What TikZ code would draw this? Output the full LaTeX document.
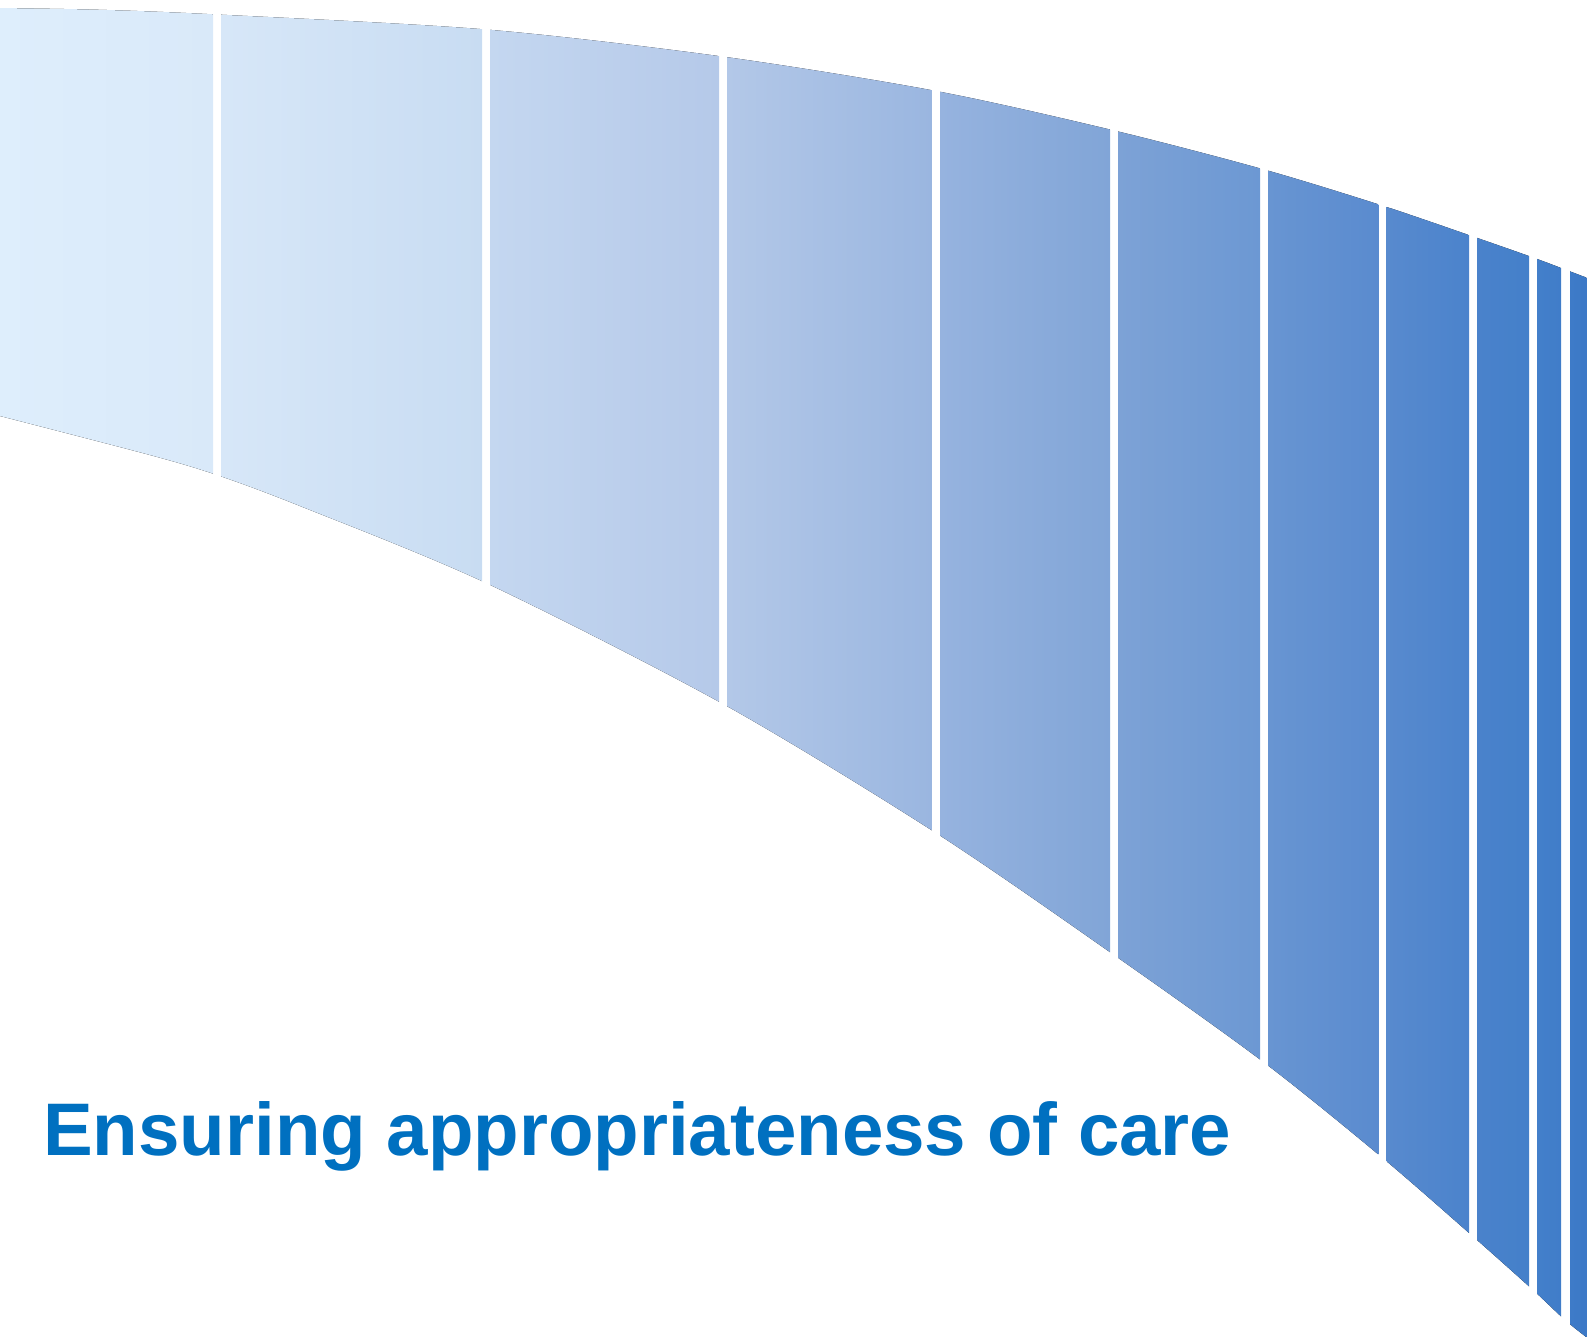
\documentclass[tikz,border=0pt]{standalone}
\usepackage{fontspec}
\setmainfont{Liberation Sans}
\definecolor{titleblue}{HTML}{0070C0}
\definecolor{sA}{HTML}{DEEEFC}\definecolor{sAr}{HTML}{D9E9F9}
\definecolor{sB}{HTML}{D7E7F8}\definecolor{sBr}{HTML}{C8DCF2}
\definecolor{sC}{HTML}{C4D7F0}\definecolor{sCr}{HTML}{B5C9E9}
\definecolor{sD}{HTML}{B3C8E8}\definecolor{sDr}{HTML}{9AB6E0}
\definecolor{sE}{HTML}{96B3DF}\definecolor{sEr}{HTML}{81A5D7}
\definecolor{sF}{HTML}{7DA2D6}\definecolor{sFr}{HTML}{6C98D3}
\definecolor{sG}{HTML}{6895D2}\definecolor{sGr}{HTML}{5A8BCF}
\definecolor{sH}{HTML}{588ACE}\definecolor{sHr}{HTML}{4B83CC}
\definecolor{sI}{HTML}{4A82CB}\definecolor{sIr}{HTML}{4480CA}
\definecolor{sJ}{HTML}{437FCA}\definecolor{sJr}{HTML}{407DC9}
\definecolor{sK}{HTML}{3E7BC8}\definecolor{sKr}{HTML}{3B78C6}
\tikzset{
  segfill/.style 2 args={left color=#1, right color=#2, draw=none},
  titletext/.style={inner sep=0pt, anchor=base west, text=titleblue,
    font=\bfseries\fontsize{74.5}{90}\selectfont}
}
\begin{document}
\begin{tikzpicture}[x=1pt,y=-1pt]
\useasboundingbox (0,0) rectangle (1587,1337);
\begin{scope}
\clip plot[smooth] coordinates {(-2,8) (100,9.8) (217,14.5) (486,29.5) (722,56.5) (936,91) (1114,130.5) (1264,169.5) (1382,205.5) (1473,236.5) (1533,257.5) (1565,269.5) (1590,279)}
  -- plot[smooth] coordinates {(1590,1340) (1565,1320) (1533,1290) (1473,1236.5) (1382,1157.5) (1264,1062.5) (1114,955) (936,833) (724,704.5) (486,583) (300,506) (217,475) (150,455) (-2,415.5)} -- cycle;
\fill[segfill={sA}{sAr}] (-2,0) rectangle (213,1337);
\fill[segfill={sB}{sBr}] (221,0) rectangle (482,1337);
\fill[segfill={sC}{sCr}] (490,0) rectangle (719,1337);
\fill[segfill={sD}{sDr}] (727,0) rectangle (931.5,1337);
\fill[segfill={sE}{sEr}] (940,0) rectangle (1110,1337);
\fill[segfill={sF}{sFr}] (1118.3,0) rectangle (1260,1337);
\fill[segfill={sG}{sGr}] (1268.3,0) rectangle (1378.3,1337);
\fill[segfill={sH}{sHr}] (1386.7,0) rectangle (1469,1337);
\fill[segfill={sI}{sIr}] (1477,0) rectangle (1529,1337);
\fill[segfill={sJ}{sJr}] (1537,0) rectangle (1561,1337);
\fill[segfill={sK}{sKr}] (1570,0) rectangle (1590,1337);
\end{scope}
\node[titletext] (title) at (43,1155.7) {Ensuring appropriateness of care};
\end{tikzpicture}
\end{document}
